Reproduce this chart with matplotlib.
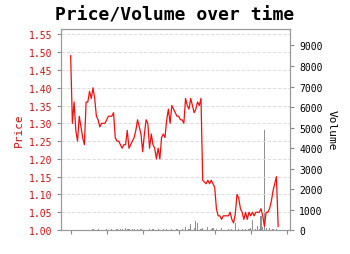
import matplotlib
matplotlib.use("Agg")
import matplotlib.pyplot as plt

plt.rcParams['font.family'] = 'monospace'
plt.rcParams['font.monospace'] = ['DejaVu Sans Mono', 'Liberation Mono']

# daily closing price
price = [1.49, 1.30, 1.36, 1.28, 1.25, 1.32, 1.29, 1.26, 1.24, 1.36,
         1.36, 1.39, 1.37, 1.40, 1.37, 1.32, 1.31, 1.29, 1.30, 1.30,
         1.30, 1.31, 1.32, 1.32, 1.32, 1.33, 1.26, 1.25, 1.25, 1.24,
         1.23, 1.24, 1.24, 1.28, 1.23, 1.24, 1.25, 1.26, 1.28, 1.31,
         1.29, 1.27, 1.22, 1.27, 1.31, 1.30, 1.23, 1.27, 1.24, 1.23,
         1.20, 1.23, 1.20, 1.26, 1.27, 1.26, 1.31, 1.34, 1.30, 1.35,
         1.34, 1.33, 1.32, 1.32, 1.31, 1.31, 1.30, 1.37, 1.35, 1.34,
         1.37, 1.35, 1.33, 1.34, 1.36, 1.35, 1.37, 1.14, 1.135, 1.13,
         1.14, 1.13, 1.14, 1.13, 1.12, 1.06, 1.04, 1.04, 1.03, 1.04,
         1.04, 1.04, 1.04, 1.05, 1.03, 1.02, 1.045, 1.10, 1.09, 1.06,
         1.05, 1.03, 1.05, 1.03, 1.05, 1.04, 1.05, 1.04, 1.05, 1.05,
         1.05, 1.06, 1.04, 1.01, 1.05, 1.05, 1.06, 1.08, 1.11, 1.13,
         1.15, 1.01]

# daily volume
volume = [0, 10, 0, 20, 0, 10, 0, 0, 15, 0,
          0, 20, 0, 30, 0, 0, 40, 0, 20, 0,
          0, 50, 0, 0, 30, 0, 0, 40, 0, 60,
          50, 0, 80, 40, 60, 0, 50, 30, 0, 40,
          0, 30, 0, 20, 0, 0, 60, 0, 30, 0,
          0, 40, 0, 0, 70, 0, 30, 0, 0, 40,
          0, 0, 50, 0, 0, 30, 0, 150, 0, 60,
          300, 0, 80, 450, 330, 0, 60, 100, 0, 0,
          150, 0, 40, 120, 0, 30, 0, 0, 100, 0,
          20, 0, 30, 0, 40, 0, 330, 0, 50, 0,
          30, 0, 40, 0, 60, 80, 500, 0, 50, 200,
          60, 700, 150, 4900, 100, 0, 120, 0, 60, 0,
          40, 0]

tick_every = 21
x = list(range(len(price)))

fig = plt.figure(figsize=(3.5, 2.55), dpi=100)
ax1 = fig.add_axes([0.174, 0.094, 0.655, 0.788])
ax2 = ax1.twinx()

ax1.plot(x, price, color='#ee1111', linewidth=0.9, zorder=3)
ax1.set_ylim(1.0, 1.565)
ax1.set_yticks([1.0 + 0.05 * k for k in range(12)])
ax1.set_yticklabels(["%.2f" % (1.0 + 0.05 * k) for k in range(12)])
ax1.yaxis.grid(True, linestyle='--', color='#dddddd', linewidth=0.7)
ax1.set_ylabel("Price", color='#cc1111', fontsize=8, labelpad=3)
ax1.tick_params(axis='y', colors='#cc1111', labelsize=7, length=3)
ax1.tick_params(axis='y', color='#888888')

ax2.bar(x, volume, width=0.7, color='#909090')
ax2.set_ylim(0, 9800)
ax2.set_yticks(range(0, 10000, 1000))
ax2.set_ylabel("Volume", rotation=270, fontsize=8, labelpad=10)
ax2.tick_params(axis='y', labelsize=7, length=3, color='#888888')

ax1.set_xlim(-5.7, 128)
ax1.set_xticks(range(0, 127, tick_every))
ax1.set_xticklabels([])
ax1.tick_params(axis='x', length=3, color='#888888')

for ax in (ax1, ax2):
    for sp in ax.spines.values():
        sp.set_color('#999999')

ax1.set_zorder(ax2.get_zorder() + 1)
ax1.patch.set_visible(False)

fig.suptitle("Price/Volume over time", fontsize=13, fontweight='bold', y=0.975)

plt.savefig("out.png", dpi=100)
